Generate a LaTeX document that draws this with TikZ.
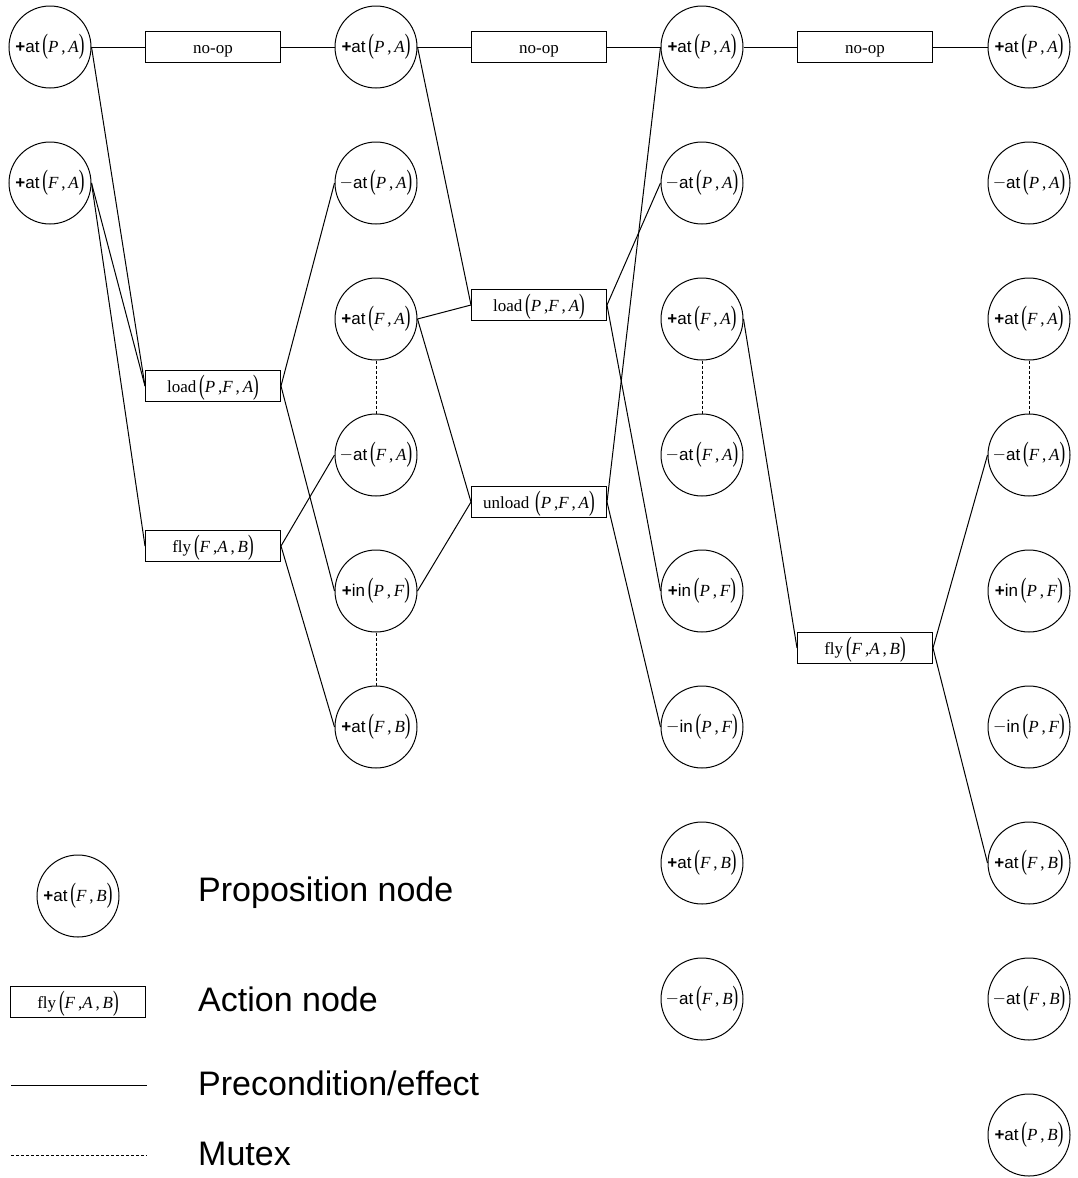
\documentclass[tikz,border=0pt]{standalone}
\usepackage{graphicx}
\usepackage{fontspec}
\setmainfont{Liberation Serif}
\setsansfont{Liberation Sans}
\newcommand{\plus}{{\sffamily\bfseries +}}
\newcommand{\mins}{\raisebox{0.5pt}{$-$}}
\newcommand{\lpar}{\raisebox{-1.5pt}{\scalebox{1}[1.65]{(}}}
\newcommand{\rpar}{\raisebox{-1.5pt}{\scalebox{1}[1.65]{)}}}
\newcommand{\vr}[1]{\textit{#1}}
\newcommand{\plab}[4]{#1{\sffamily #2}\,\lpar\vr{#3}\,,\,\vr{#4}\rpar}
\newcommand{\alabthree}[4]{#1\,\lpar\vr{#2}\,,\vr{#3}\,,\,\vr{#4}\rpar}
\begin{document}
\begin{tikzpicture}[x=1pt,y=-1pt,
  prop/.style={circle,draw,line width=1pt,minimum size=82pt,inner sep=0pt,font=\fontsize{17}{20}\selectfont},
  act/.style={rectangle,draw,line width=1pt,minimum width=135pt,minimum height=31pt,inner sep=0pt,text height=16pt,text depth=3pt,font=\fontsize{17}{20}\selectfont},
  link/.style={line width=1pt},
  mutex/.style={line width=1pt,dash pattern=on 3pt off 2pt},
  legtext/.style={anchor=west,inner sep=0pt,font=\sffamily\fontsize{34}{40}\selectfont}]
\useasboundingbox (0,0) rectangle (1078,1178);
% column 1
\node[prop] (c1r0) at (50,47) {\plab{\plus}{at}{P}{A}};
\node[prop] (c1r1) at (50,183) {\plab{\plus}{at}{F}{A}};
% column 2
\node[prop] (c2r0) at (376,47) {\plab{\plus}{at}{P}{A}};
\node[prop] (c2r1) at (376,183) {\plab{\mins}{at}{P}{A}};
\node[prop] (c2r2) at (376,319) {\plab{\plus}{at}{F}{A}};
\node[prop] (c2r3) at (376,455) {\plab{\mins}{at}{F}{A}};
\node[prop] (c2r4) at (376,591) {\plab{\plus}{in}{P}{F}};
\node[prop] (c2r5) at (376,727) {\plab{\plus}{at}{F}{B}};
% column 3
\node[prop] (c3r0) at (702,47) {\plab{\plus}{at}{P}{A}};
\node[prop] (c3r1) at (702,183) {\plab{\mins}{at}{P}{A}};
\node[prop] (c3r2) at (702,319) {\plab{\plus}{at}{F}{A}};
\node[prop] (c3r3) at (702,455) {\plab{\mins}{at}{F}{A}};
\node[prop] (c3r4) at (702,591) {\plab{\plus}{in}{P}{F}};
\node[prop] (c3r5) at (702,727) {\plab{\mins}{in}{P}{F}};
\node[prop] (c3r6) at (702,863) {\plab{\plus}{at}{F}{B}};
\node[prop] (c3r7) at (702,999) {\plab{\mins}{at}{F}{B}};
% column 4
\node[prop] (c4r0) at (1029,47) {\plab{\plus}{at}{P}{A}};
\node[prop] (c4r1) at (1029,183) {\plab{\mins}{at}{P}{A}};
\node[prop] (c4r2) at (1029,319) {\plab{\plus}{at}{F}{A}};
\node[prop] (c4r3) at (1029,455) {\plab{\mins}{at}{F}{A}};
\node[prop] (c4r4) at (1029,591) {\plab{\plus}{in}{P}{F}};
\node[prop] (c4r5) at (1029,727) {\plab{\mins}{in}{P}{F}};
\node[prop] (c4r6) at (1029,863) {\plab{\plus}{at}{F}{B}};
\node[prop] (c4r7) at (1029,999) {\plab{\mins}{at}{F}{B}};
\node[prop] (c4r8) at (1029,1135) {\plab{\plus}{at}{P}{B}};
% actions
\node[act] (noop1) at (213,47) {no-op};
\node[act] (load1) at (213,386) {\alabthree{load}{P}{F}{A}};
\node[act] (fly1) at (213,546) {\alabthree{fly}{F}{A}{B}};
\node[act] (noop2) at (539,47) {no-op};
\node[act] (load2) at (539,305) {\alabthree{load}{P}{F}{A}};
\node[act] (unload2) at (539,502) {\alabthree{unload\,}{P}{F}{A}};
\node[act] (noop3) at (865,47) {no-op};
\node[act] (fly3) at (865,648) {\alabthree{fly}{F}{A}{B}};
% links layer 1
\draw[link] (c1r0.east) -- (noop1.west);
\draw[link] (c1r0.east) -- (load1.west);
\draw[link] (c1r1.east) -- (load1.west);
\draw[link] (c1r1.east) -- (fly1.west);
\draw[link] (noop1.east) -- (c2r0.west);
\draw[link] (load1.east) -- (c2r1.west);
\draw[link] (load1.east) -- (c2r4.west);
\draw[link] (fly1.east) -- (c2r3.west);
\draw[link] (fly1.east) -- (c2r5.west);
% links layer 2
\draw[link] (c2r0.east) -- (noop2.west);
\draw[link] (c2r0.east) -- (load2.west);
\draw[link] (c2r2.east) -- (load2.west);
\draw[link] (c2r2.east) -- (unload2.west);
\draw[link] (c2r4.east) -- (unload2.west);
\draw[link] (noop2.east) -- (c3r0.west);
\draw[link] (load2.east) -- (c3r1.west);
\draw[link] (load2.east) -- (c3r4.west);
\draw[link] (unload2.east) -- (c3r0.west);
\draw[link] (unload2.east) -- (c3r5.west);
% links layer 3
\draw[link] (c3r0.east) -- (noop3.west);
\draw[link] (c3r2.east) -- (fly3.west);
\draw[link] (noop3.east) -- (c4r0.west);
\draw[link] (fly3.east) -- (c4r3.west);
\draw[link] (fly3.east) -- (c4r6.west);
% mutexes
\draw[mutex] (c2r2.south) -- (c2r3.north);
\draw[mutex] (c2r4.south) -- (c2r5.north);
\draw[mutex] (c3r2.south) -- (c3r3.north);
\draw[mutex] (c4r2.south) -- (c4r3.north);
% legend
\node[prop] (legprop) at (78,896) {\plab{\plus}{at}{F}{B}};
\node[act] (legact) at (78,1002) {\alabthree{fly}{F}{A}{B}};
\coordinate (legl1a) at (11,1085);
\coordinate (legl1b) at (147,1085);
\coordinate (legl2a) at (11,1155);
\coordinate (legl2b) at (147,1155);
\draw[link] (legl1a) -- (legl1b);
\draw[mutex] (legl2a) -- (legl2b);
\node[legtext] (tprop) at (198,893) {Proposition node};
\node[legtext] (tact) at (198,999) {Action node};
\node[legtext] (tpre) at (198,1083) {Precondition/effect};
\node[legtext] (tmut) at (198,1154) {Mutex};
\end{tikzpicture}
\end{document}
